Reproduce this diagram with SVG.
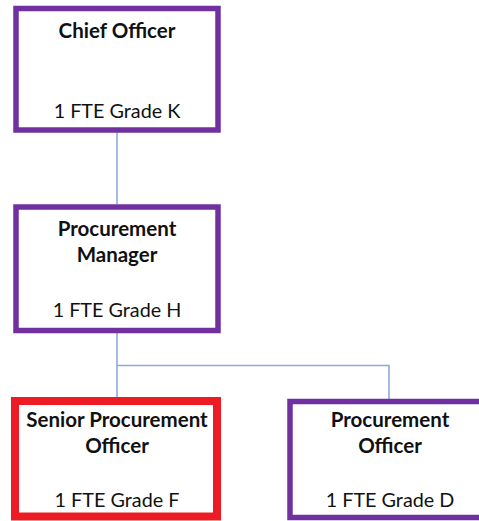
<svg xmlns="http://www.w3.org/2000/svg" width="479" height="521" viewBox="0 0 479 521">
  <style>
    .box { fill: #ffffff; stroke: #7030a0; stroke-width: 5.5; }
    .box.hl { stroke: #ed1c24; stroke-width: 8; }
    .link { fill: none; stroke: #8eaadb; stroke-width: 1.6; }
    text { font-family: Lato, "Open Sans", "Liberation Sans", sans-serif; font-size: 19.8px; fill: #111111; text-anchor: middle; }
    .title { font-weight: bold; font-size: 20.5px; }
  </style>
  <rect width="479" height="521" fill="#ffffff"/>

  <g id="connectors">
    <path class="link" d="M117 132 V204"/>
    <path class="link" d="M117 333 V397"/>
    <path class="link" d="M117 365.5 H389 V399"/>
  </g>

  <g id="chief-officer">
    <rect class="box" x="16" y="8.5" width="202" height="121.5"/>
    <text class="title" x="117" y="38">Chief Officer</text>
    <text x="117" y="118">1 FTE Grade K</text>
  </g>

  <g id="procurement-manager">
    <rect class="box" x="16" y="207" width="202" height="123.5"/>
    <text class="title" x="117" y="236">Procurement</text>
    <text class="title" x="117" y="262">Manager</text>
    <text x="117" y="317">1 FTE Grade H</text>
  </g>

  <g id="senior-procurement-officer">
    <rect class="box hl" x="15" y="401" width="202" height="115.5"/>
    <text class="title" x="117" y="427">Senior Procurement</text>
    <text class="title" x="117" y="453">Officer</text>
    <text x="117" y="507">1 FTE Grade F</text>
  </g>

  <g id="procurement-officer">
    <rect class="box" x="290" y="401.5" width="200" height="116"/>
    <text class="title" x="390" y="427">Procurement</text>
    <text class="title" x="390" y="453">Officer</text>
    <text x="390" y="507">1 FTE Grade D</text>
  </g>
</svg>
